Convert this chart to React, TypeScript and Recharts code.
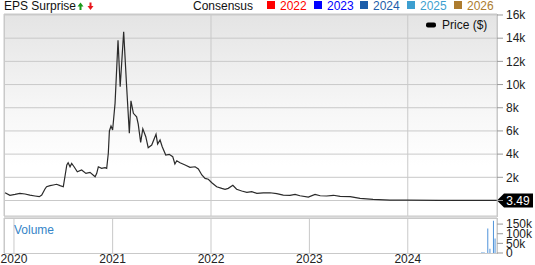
import { Bar, CartesianGrid, ComposedChart, Line, ReferenceLine, XAxis, YAxis } from "recharts";

// price (split-adjusted)
const priceDates = [
  "2019-11-29", "2019-12-17", "2020-01-05", "2020-01-23", "2020-02-11", "2020-02-29",
  "2020-03-19", "2020-04-04", "2020-04-13", "2020-04-25", "2020-05-01", "2020-05-14",
  "2020-05-26", "2020-06-07", "2020-06-20", "2020-07-02", "2020-07-08", "2020-07-15",
  "2020-07-20", "2020-07-27", "2020-08-02", "2020-08-11", "2020-08-23", "2020-09-08",
  "2020-09-24", "2020-10-09", "2020-10-28", "2020-11-03", "2020-11-09", "2020-11-21",
  "2020-12-04", "2020-12-10", "2020-12-16", "2020-12-20", "2020-12-26", "2021-01-01",
  "2021-01-10", "2021-01-21", "2021-01-29", "2021-02-11", "2021-02-22", "2021-03-04",
  "2021-03-10", "2021-03-19", "2021-03-31", "2021-04-06", "2021-04-15", "2021-04-23",
  "2021-05-04", "2021-05-13", "2021-05-26", "2021-06-11", "2021-06-17", "2021-06-26",
  "2021-07-04", "2021-07-17", "2021-07-30", "2021-08-12", "2021-08-20", "2021-08-27",
  "2021-09-08", "2021-09-27", "2021-10-15", "2021-11-03", "2021-11-15", "2021-11-28",
  "2021-12-10", "2021-12-22", "2022-01-04", "2022-01-22", "2022-02-10", "2022-02-22",
  "2022-03-06", "2022-03-23", "2022-04-06", "2022-04-25", "2022-05-14", "2022-06-01",
  "2022-06-20", "2022-07-14", "2022-08-08", "2022-09-02", "2022-09-26", "2022-10-21",
  "2022-11-09", "2022-11-27", "2022-12-28", "2023-01-22", "2023-02-10", "2023-03-06",
  "2023-03-31", "2023-04-25", "2023-06-01", "2023-07-08", "2023-08-25", "2023-10-27",
  "2023-12-29", "2024-04-30", "2024-08-19", "2024-11-26",
];
const priceValues = [
  670, 450, 530, 620, 560, 470,
  390, 330, 470, 990, 1190, 1280,
  1340, 1400, 1280, 1190, 2050, 3060,
  3260, 2910, 3200, 2910, 2480, 2630,
  2340, 2430, 2050, 2340, 2910, 2770,
  2830, 2770, 4070, 6000, 6420, 6080,
  8380, 13830, 9810, 14550, 9810, 5800,
  8600, 7520, 7220, 6590, 5020, 6190,
  5500, 4550, 4780, 5710, 4870, 5220,
  4640, 3920, 3980, 3780, 3150, 3430,
  3260, 3060, 2860, 2910, 2720, 2200,
  1910, 1830, 1530, 1190, 1050, 970,
  1050, 1310, 970, 820, 710, 760,
  620, 650, 670, 590, 470, 450,
  530, 410, 300, 530, 410, 390,
  450, 360, 330, 190, 100, 40,
  30, 15, 8, 3.49,
];

const volumeDates = ["2024-10-01", "2024-10-05", "2024-10-10", "2024-10-24", "2024-11-01", "2024-11-14", "2024-11-20"];
const volumeValues = [2000, 3000, 4000, 127000, 22000, 167000, 75000];

const yearTicks = ["2020-01-01", "2021-01-01", "2022-01-01", "2023-01-01", "2024-01-01"];
const priceTicks = [0, 2000, 4000, 6000, 8000, 10000, 12000, 14000, 16000];
const volumeTicks = [0, 50000, 100000, 150000];
const consensusYears = ["2022", "2023", "2024", "2025", "2026"];
const consensusColors = ["#ff0000", "#0000ff", "#1c5daa", "#3d9fd0", "#ad7c2e"];
const lastPrice = 3.49;

const ms = (d: string) => Date.parse(d + "T00:00:00Z");
const X_DOMAIN = [ms("2019-11-25"), ms("2024-11-27")];
const X_TICKS = yearTicks.map(ms);
const FONT = '"Liberation Sans", Arial, sans-serif';
const GRID = "#c9c9c9";

const priceData = priceDates.map((d, i) => ({ t: ms(d), price: priceValues[i] }));
const volumeData = volumeDates.map((d, i) => ({ t: ms(d), vol: volumeValues[i] }));

const kFmt = (v: number) => (v === 0 ? "0" : `${v / 1000}k`);

function PriceTag(props: any) {
  const vb = props.viewBox;
  const x = vb.x + vb.width;
  const y = vb.y;
  return (
    <g>
      <path d={`M${x},${y} L${x + 7},${y - 7} H${x + 36} V${y + 7} H${x + 7} Z`} fill="#000" />
      <text x={x + 21} y={y} dy="0.36em" textAnchor="middle" fill="#fff" fontSize={12} fontFamily={FONT}>
        {lastPrice.toFixed(2)}
      </text>
    </g>
  );
}

export default function App() {
  const squareX = [267, 314, 360, 407, 454];
  return (
    <div style={{ position: "absolute", left: 0, top: 0, width: 535, height: 265, background: "#fff", fontFamily: FONT, overflow: "hidden" }}>
      {/* panel backgrounds */}
      <div style={{ position: "absolute", left: 4, top: 14, width: 492, height: 201, border: `1px solid ${GRID}`, background: "linear-gradient(#e4e4e4, #f6f6f6 45%, #ffffff 75%)" }} />
      <div style={{ position: "absolute", left: 4, top: 216, width: 493, height: 2, background: "#dcdcdc" }} />
      <div style={{ position: "absolute", left: 4, top: 218, width: 492, height: 34, border: `1px solid ${GRID}`, background: "#fff" }} />

      <div style={{ position: "absolute", left: 0, top: 0 }}>
        <ComposedChart width={535} height={218} data={priceData} margin={{ top: 14, right: 0, bottom: 2, left: 4 }}>
          <CartesianGrid stroke={GRID} />
          <XAxis dataKey="t" type="number" domain={X_DOMAIN} ticks={X_TICKS} allowDataOverflow hide />
          <YAxis
            orientation="right"
            width={38}
            domain={[-1337, 16086]}
            ticks={priceTicks}
            interval={0}
            allowDataOverflow
            tickFormatter={(v) => (v === 0 ? "" : kFmt(v))}
            tick={{ fontSize: 12, fill: "#222", fontFamily: FONT }}
            tickLine={{ stroke: "#999" }}
            tickSize={6}
            tickMargin={3}
            axisLine={false}
          />
          <Line dataKey="price" type="linear" stroke="#2a2a2a" strokeWidth={1.2} dot={false} isAnimationActive={false} />
          <ReferenceLine y={lastPrice} stroke="none" label={<PriceTag />} />
        </ComposedChart>
      </div>

      <div style={{ position: "absolute", left: 0, top: 216 }}>
        <ComposedChart width={535} height={49} data={volumeData} margin={{ top: 2, right: 0, bottom: 0, left: 4 }}>
          <CartesianGrid stroke={GRID} horizontal={false} />
          <XAxis
            dataKey="t"
            type="number"
            domain={X_DOMAIN}
            ticks={X_TICKS}
            interval={0}
            allowDataOverflow
            height={12}
            tickFormatter={(v) => String(new Date(v).getUTCFullYear())}
            tick={{ fontSize: 12, fill: "#222", fontFamily: FONT }}
            tickLine={false}
            tickSize={0}
            tickMargin={1}
            axisLine={false}
          />
          <YAxis
            orientation="right"
            width={38}
            domain={[0, 181600]}
            ticks={volumeTicks}
            interval={0}
            allowDataOverflow
            tickFormatter={kFmt}
            tick={{ fontSize: 12, fill: "#222", fontFamily: FONT }}
            tickLine={{ stroke: "#999" }}
            tickSize={6}
            tickMargin={3}
            axisLine={false}
          />
          <Bar dataKey="vol" fill="#4a90d9" barSize={2} isAnimationActive={false} />
        </ComposedChart>
      </div>

      {/* legends and labels */}
      <svg width={535} height={265} style={{ position: "absolute", left: 0, top: 0, pointerEvents: "none" }} fontFamily={FONT} fontSize={12}>
        <text x={4} y={9.5} fill="#111">EPS Surprise</text>
        <path d="M77.5,6.5 L80.5,2.5 L83.5,6.5 H81.5 V10 H79.5 V6.5 Z" fill="#1a9a1a" />
        <path d="M87.5,6 L90.5,10 L93.5,6 H91.5 V2.5 H89.5 V6 Z" fill="#e8161c" />
        <text x={193} y={9.5} fill="#111">Consensus</text>
        {consensusYears.map((y, i) => (
          <g key={y}>
            <rect x={squareX[i]} y={1} width={8} height={8} fill={consensusColors[i]} />
            <text x={squareX[i] + 13} y={9.5} fill={consensusColors[i]}>{y}</text>
          </g>
        ))}
        <rect x={426} y={22.5} width={10} height={5} rx={2} fill="#000" />
        <text x={442} y={29} fill="#111">Price ($)</text>
        <text x={14} y={233.5} fill="#3585c8">Volume</text>
      </svg>
    </div>
  );
}
